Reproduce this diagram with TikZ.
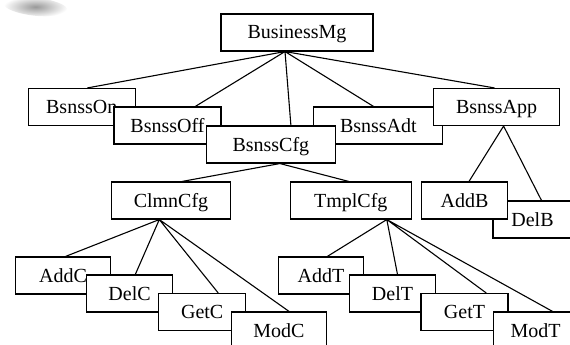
\documentclass[tikz,border=0pt]{standalone}
\usepackage{fontspec}
\setmainfont{Liberation Serif}
\usetikzlibrary{backgrounds}
\tikzset{box/.style={draw,rectangle,fill=white,line width=1.1pt,minimum height=37pt,inner sep=0pt,
    text height=13pt,text depth=0pt,font=\fontsize{20}{23}\selectfont},
  link/.style={draw,line width=1.1pt}}

\begin{document}
\begin{tikzpicture}[x=1pt,y=-1pt]
\useasboundingbox (0,0) rectangle (570,345);
\clip (0,0) rectangle (570,345);
\shade[inner color=gray!80,outer color=white,rotate=-6] (36,3) ellipse (32 and 9);

\node[box,minimum width=152pt] (BusinessMg) at (297,32.5) {BusinessMg};

\node[box,minimum width=107pt] (BsnssOn) at (81.7,107) {BsnssOn};
\node[box,minimum width=107pt] (BsnssOff) at (167.5,125.5) {BsnssOff};
\node[box,minimum width=129pt] (BsnssAdt) at (378.4,125.5) {BsnssAdt};
\node[box,minimum width=125.5pt] (BsnssApp) at (496.6,107) {BsnssApp};
\node[box,minimum width=129pt] (BsnssCfg) at (270.9,144.5) {BsnssCfg};

\node[box,minimum width=119pt] (ClmnCfg) at (171,200.5) {ClmnCfg};
\node[box,minimum width=121pt] (TmplCfg) at (350.8,200.5) {TmplCfg};
\node[box,minimum width=79pt] (DelB) at (532.5,219.5) {DelB};
\node[box,minimum width=85.5pt] (AddB) at (464.5,200.5) {AddB};

\node[box,minimum width=95.6pt] (AddC) at (63.1,275.5) {AddC};
\node[box,minimum width=86pt] (DelC) at (129.6,293.5) {DelC};
\node[box,minimum width=86.6pt] (GetC) at (202.2,312) {GetC};
\node[box,minimum width=94.6pt] (ModC) at (278.9,330.5) {ModC};

\node[box,minimum width=85.4pt] (AddT) at (320.9,275.5) {AddT};
\node[box,minimum width=85.5pt] (DelT) at (392.5,293.5) {DelT};
\node[box,minimum width=87pt] (GetT) at (464.5,312) {GetT};
\node[box,minimum width=84pt] (ModT) at (535.6,330.5) {ModT};

\begin{scope}[on background layer]
\path[link]
([xshift=-12pt]BusinessMg.south) -- ([xshift=5.6pt]BsnssOn.north)
([xshift=-12pt]BusinessMg.south) -- ([xshift=27.8pt]BsnssOff.north)
([xshift=-12pt]BusinessMg.south) -- ([xshift=20pt]BsnssCfg.north)
([xshift=-12pt]BusinessMg.south) -- ([xshift=-4.9pt]BsnssAdt.north)
([xshift=-12pt]BusinessMg.south) -- ([xshift=-2.1pt]BsnssApp.north)
([xshift=9pt]BsnssCfg.south) -- ([xshift=11pt]ClmnCfg.north)
([xshift=9pt]BsnssCfg.south) -- ([xshift=-2pt]TmplCfg.north)
([xshift=7pt]BsnssApp.south) -- ([xshift=4.5pt]AddB.north)
([xshift=7pt]BsnssApp.south) -- ([xshift=9pt]DelB.north)
([xshift=-11.7pt]ClmnCfg.south) -- ([xshift=2.4pt]AddC.north)
([xshift=-11.7pt]ClmnCfg.south) -- ([xshift=5.7pt]DelC.north)
([xshift=-11.7pt]ClmnCfg.south) -- ([xshift=16pt]GetC.north)
([xshift=-11.7pt]ClmnCfg.south) -- ([xshift=10.2pt]ModC.north)
([xshift=36pt]TmplCfg.south) -- ([xshift=6.4pt]AddT.north)
([xshift=36pt]TmplCfg.south) -- ([xshift=5pt]DelT.north)
([xshift=36pt]TmplCfg.south) -- ([xshift=21.7pt]GetT.north)
([xshift=36pt]TmplCfg.south) -- ([xshift=17pt]ModT.north);
\end{scope}
\end{tikzpicture}
\end{document}
